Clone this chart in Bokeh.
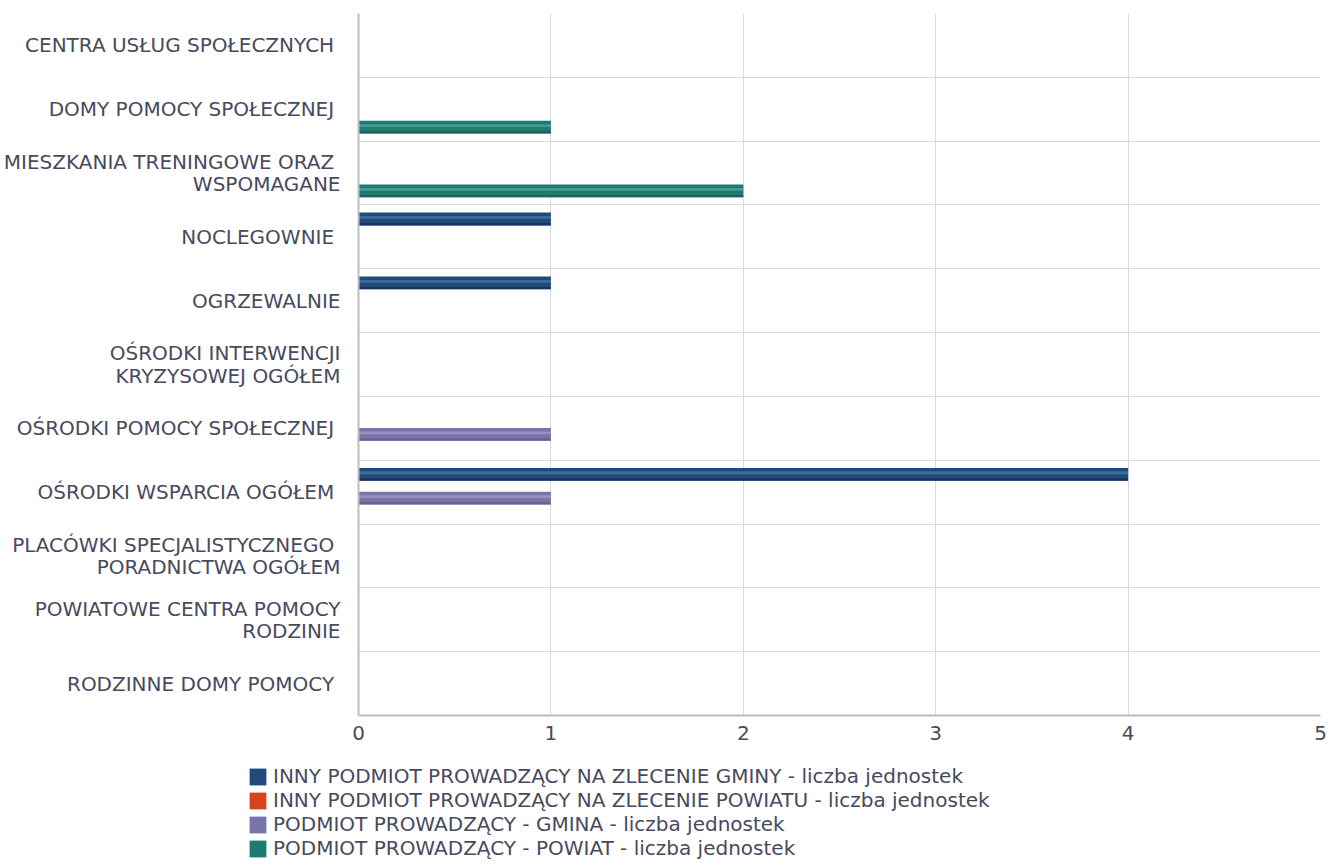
from bokeh.plotting import figure
from bokeh.layouts import column, row
from bokeh.models import Range1d, FixedTicker, Legend, LegendItem, ColumnDataSource
from bokeh.embed import file_html
from bokeh.resources import INLINE

categories = [
    "CENTRA USŁUG SPOŁECZNYCH ",
    "DOMY POMOCY SPOŁECZNEJ ",
    "MIESZKANIA TRENINGOWE ORAZ \nWSPOMAGANE",
    "NOCLEGOWNIE ",
    "OGRZEWALNIE",
    "OŚRODKI INTERWENCJI\nKRYZYSOWEJ OGÓŁEM",
    "OŚRODKI POMOCY SPOŁECZNEJ ",
    "OŚRODKI WSPARCIA OGÓŁEM ",
    "PLACÓWKI SPECJALISTYCZNEGO \nPORADNICTWA OGÓŁEM",
    "POWIATOWE CENTRA POMOCY\nRODZINIE",
    "RODZINNE DOMY POMOCY ",
]
series_names = [
    "INNY PODMIOT PROWADZĄCY NA ZLECENIE GMINY - liczba jednostek",
    "INNY PODMIOT PROWADZĄCY NA ZLECENIE POWIATU - liczba jednostek",
    "PODMIOT PROWADZĄCY - GMINA - liczba jednostek",
    "PODMIOT PROWADZĄCY - POWIAT - liczba jednostek",
]
inny_gmina = [0, 0, 0, 1, 1, 0, 0, 4, 0, 0, 0]
inny_powiat = [0, 0, 0, 0, 0, 0, 0, 0, 0, 0, 0]
gmina = [0, 0, 0, 0, 0, 0, 1, 1, 0, 0, 0]
powiat = [0, 1, 2, 0, 0, 0, 0, 0, 0, 0, 0]
x_ticks = [0, 1, 2, 3, 4, 5]

series_values = [inny_gmina, inny_powiat, gmina, powiat]
colors = ["#1f4a7c", "#d2461c", "#7674a8", "#1f7a70"]
highlights = ["#5a7fab", "#ee8a63", "#a9a7cc", "#62b0a5"]
shadows = ["#0f2d52", "#a8320e", "#5a5888", "#115a52"]

font = "DejaVu Sans"
fsize = "20px"
txt_color = "#474a5e"

n = len(categories)
W, H1, H2 = 1328, 760, 106
p = figure(width=W, height=H1, output_backend="svg", toolbar_location=None,
           x_range=Range1d(0, 5), y_range=Range1d(0, n),
           min_border_left=357, min_border_right=W - 1320, min_border_top=13,
           min_border_bottom=H1 - 715)
p.outline_line_color = None
p.background_fill_color = "white"
p.border_fill_color = "white"

centers = [n - i - 0.5 for i in range(n)]
offsets = [0.28, 0.094, -0.094, -0.28]
bar_h = 0.2

for s, vals in enumerate(series_values):
    ys = [c + offsets[s] for c in centers]
    p.hbar(y="y", right="right", left=0, height=bar_h,
           source=ColumnDataSource(dict(y=ys, right=vals)),
           fill_color=colors[s], line_color=None)
    p.hbar(y="y", right="right", left=0, height=bar_h * 0.22,
           source=ColumnDataSource(dict(y=[y + bar_h * 0.12 for y in ys], right=vals)),
           fill_color=highlights[s], fill_alpha=0.6, line_color=None)
    p.hbar(y="y", right="right", left=0, height=bar_h * 0.18,
           source=ColumnDataSource(dict(y=[y - bar_h * 0.41 for y in ys], right=vals)),
           fill_color=shadows[s], fill_alpha=0.7, line_color=None)

p.xaxis.ticker = FixedTicker(ticks=x_ticks)
p.xaxis.major_tick_line_color = None
p.xaxis.minor_tick_line_color = None
p.xaxis.axis_line_color = "#bdbdbd"
p.xaxis.axis_line_width = 2
p.xaxis.major_label_text_font = font
p.xaxis.major_label_text_font_size = fsize
p.xaxis.major_label_text_color = txt_color
p.xaxis.major_label_standoff = 4

p.yaxis.ticker = FixedTicker(ticks=centers)
p.yaxis.major_label_overrides = {c: categories[i] for i, c in enumerate(centers)}
p.yaxis.major_tick_line_color = None
p.yaxis.minor_tick_line_color = None
p.yaxis.axis_line_color = "#bdbdbd"
p.yaxis.axis_line_width = 2
p.yaxis.major_label_text_font = font
p.yaxis.major_label_text_font_size = fsize
p.yaxis.major_label_text_line_height = 0.92
p.yaxis.major_label_text_color = txt_color
p.yaxis.major_label_standoff = 12

p.xgrid.ticker = FixedTicker(ticks=x_ticks)
p.xgrid.grid_line_color = "#dadada"
p.ygrid.ticker = FixedTicker(ticks=list(range(n + 1)))
p.ygrid.grid_line_color = "#dadada"

# legend figure without axes
q = figure(width=W, height=H2, output_backend="svg", toolbar_location=None,
           x_range=Range1d(0, 1), y_range=Range1d(0, 1),
           x_axis_location=None, y_axis_location=None,
           min_border=0, min_border_left=0, min_border_right=0,
           min_border_top=0, min_border_bottom=0)
q.grid.visible = False
q.outline_line_color = None
q.background_fill_alpha = 0
q.border_fill_alpha = 0
items = []
for s in range(len(series_names)):
    r = q.hbar(y=[0.5], right=[1], left=0, height=0.1, fill_color=colors[s],
               line_color=None, visible=False)
    items.append(LegendItem(label=series_names[s], renderers=[r]))
legend = Legend(items=items, location=(247, 6), orientation="vertical",
                label_text_font=font, label_text_font_size=fsize,
                label_text_color=txt_color, glyph_width=21, glyph_height=21,
                label_height=21, spacing=-4, padding=0, margin=0,
                background_fill_alpha=0, border_line_color=None,
                inactive_fill_alpha=0, label_standoff=5)
q.add_layout(legend, "center")

layout = column(p, row(q, spacing=0), spacing=0)
open("out.html", "w").write(file_html(layout, INLINE))
